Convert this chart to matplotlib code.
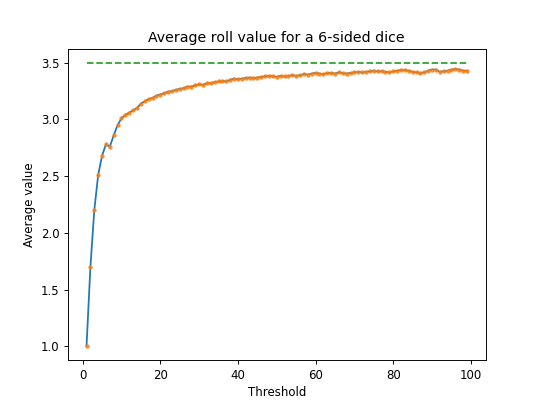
import matplotlib
matplotlib.use("Agg")
import matplotlib.pyplot as plt

thresholds = list(range(1, 100))
avg_values = [
    1.00, 1.70, 2.20, 2.51, 2.68, 2.78, 2.76, 2.86, 2.95, 3.01,
    3.04, 3.06, 3.08, 3.10, 3.14, 3.16, 3.18, 3.19, 3.21, 3.22,
    3.23, 3.245, 3.25, 3.26, 3.27, 3.275, 3.29, 3.29, 3.30, 3.31,
    3.305, 3.32, 3.32, 3.33, 3.335, 3.34, 3.335, 3.35, 3.36, 3.355,
    3.36, 3.365, 3.37, 3.365, 3.37, 3.375, 3.38, 3.385, 3.38, 3.375,
    3.385, 3.38, 3.385, 3.39, 3.385, 3.39, 3.40, 3.395, 3.405, 3.41,
    3.405, 3.40, 3.41, 3.41, 3.405, 3.415, 3.41, 3.405, 3.41, 3.415,
    3.42, 3.415, 3.42, 3.425, 3.43, 3.425, 3.425, 3.42, 3.415, 3.425,
    3.43, 3.435, 3.435, 3.43, 3.42, 3.415, 3.41, 3.415, 3.43, 3.44,
    3.44, 3.42, 3.425, 3.43, 3.44, 3.445, 3.44, 3.43, 3.43,
]
expected = 3.5

plt.figure(figsize=(6.4, 4.8))
plt.plot(thresholds, avg_values)
plt.plot(thresholds, avg_values, '.', markersize=5.5, alpha=0.8)
plt.plot([thresholds[0], thresholds[-1]], [expected, expected], '--')

plt.title("Average roll value for a 6-sided dice")
plt.xlabel("Threshold")
plt.ylabel("Average value")

plt.savefig("out.png", dpi=84.375)
